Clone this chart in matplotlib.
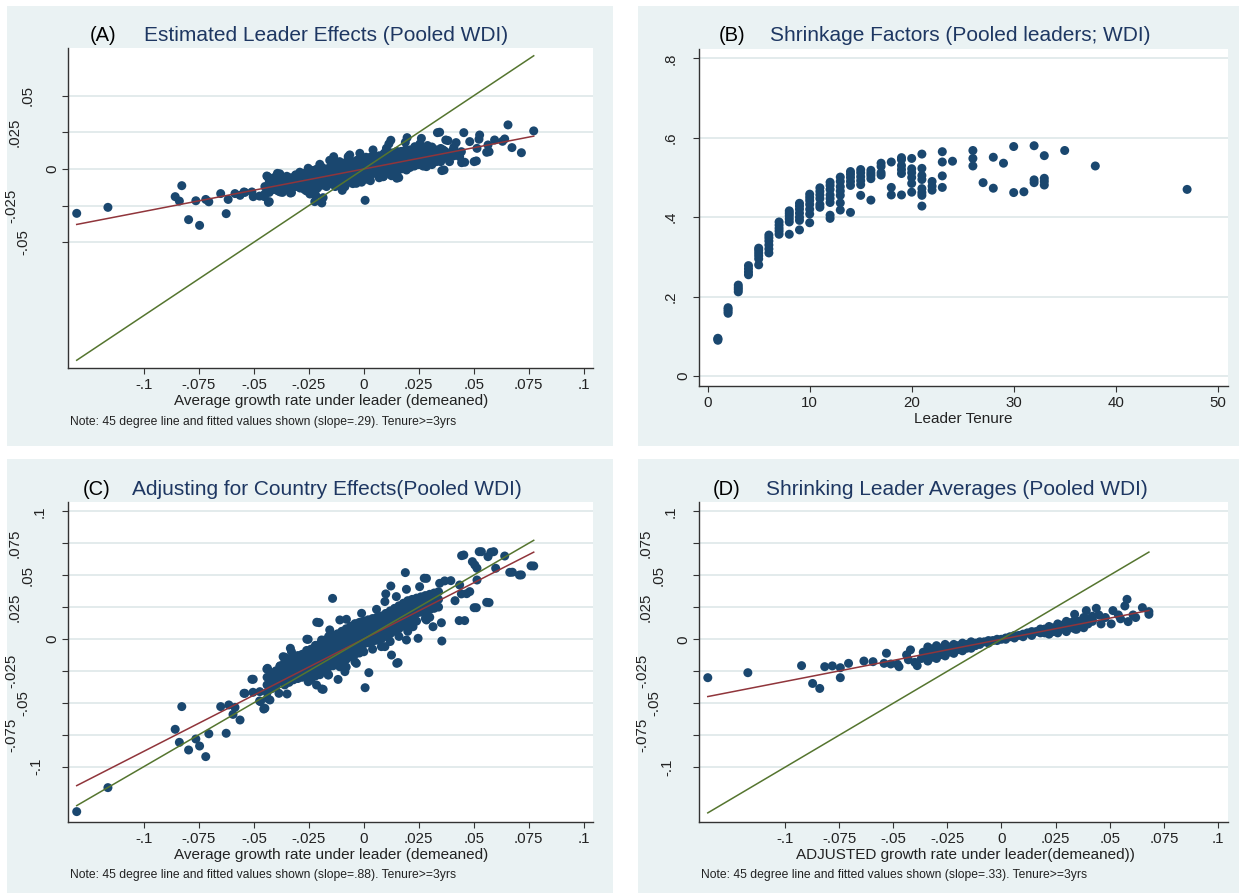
import matplotlib
matplotlib.use("Agg")
import matplotlib.pyplot as plt
import numpy as np
from matplotlib import transforms
from matplotlib.patches import Rectangle

# ---------------- data ----------------
# Panel A: average growth under leader (x) vs estimated leader effect (y)
a_points = [
    (-0.1306, -0.0303), (-0.1164, -0.0262), (-0.0858, -0.0189), (-0.0828, -0.0114), (-0.0839, -0.0219),
    (-0.0797, -0.0346), (-0.0764, -0.0217), (-0.0747, -0.0385), (-0.0719, -0.0208), (-0.0705, -0.0224),
    (-0.0651, -0.0168), (-0.0626, -0.0305), (-0.0617, -0.0208), (-0.0586, -0.0168), (-0.0563, -0.0180),
    (-0.0545, -0.0157), (-0.0541, -0.0160), (-0.0509, -0.0157), (-0.0503, -0.0189), (-0.0474, -0.0185),
    (-0.0452, -0.0189), (-0.0434, -0.0228), (-0.0430, -0.0223), (-0.0441, -0.0048), (-0.0438, -0.0052),
    (-0.0420, -0.0089), (-0.0393, -0.0030), (-0.0380, -0.0157), (-0.0334, -0.0164), (-0.0329, -0.0162),
    (-0.0259, -0.0035), (-0.0253, 0.0005), (-0.0245, -0.0171), (-0.0238, -0.0132), (-0.0223, -0.0223),
    (-0.0219, -0.0178), (-0.0214, -0.0001), (-0.0200, 0.0032), (-0.0191, -0.0232), (-0.0185, -0.0196),
    (-0.0142, 0.0048), (-0.0137, 0.0084), (-0.0098, -0.0146), (-0.0086, -0.0121), (-0.0080, 0.0044),
    (-0.0071, 0.0084), (0.0006, -0.0214), (0.0094, 0.0109), (0.0103, 0.0141), (0.0114, 0.0171),
    (0.0123, 0.0196), (0.0126, -0.0046), (0.0150, -0.0063), (0.0159, -0.0059), (0.0189, 0.0182),
    (0.0197, 0.0214), (0.0232, 0.0152), (0.0255, 0.0171), (0.0262, 0.0209), (0.0300, 0.0141),
    (0.0315, 0.0073), (0.0335, 0.0248), (0.0345, 0.0251), (0.0355, -0.0011), (0.0361, 0.0130),
    (0.0365, -0.0007), (0.0373, 0.0198), (0.0383, 0.0194), (0.0400, 0.0100), (0.0410, 0.0150),
    (0.0390, 0.0050), (0.0420, 0.0180), (0.0436, 0.0084), (0.0444, 0.0118), (0.0445, 0.0043),
    (0.0455, 0.0248), (0.0459, 0.0046), (0.0482, 0.0187), (0.0502, 0.0050), (0.0512, 0.0055),
    (0.0515, 0.0141), (0.0524, 0.0203), (0.0527, 0.0232), (0.0559, 0.0114), (0.0565, 0.0164),
    (0.0570, 0.0118), (0.0595, 0.0198), (0.0631, 0.0189), (0.0641, 0.0205), (0.0656, 0.0301),
    (0.0674, 0.0146), (0.0717, 0.0111), (0.0773, 0.0260),
    (-0.0064, 0.0096), (-0.0018, 0.0107), (0.0042, 0.0130), (-0.0155, 0.0059), (-0.0291, -0.0022),
    (-0.0382, -0.0033), (0.0224, 0.0096), (0.0330, 0.0118), (0.0406, 0.0130), (0.0285, 0.0016),
    (0.0194, -0.0007), (0.0088, -0.0053), (-0.0034, -0.0098), (-0.0125, -0.0109), (-0.0261, -0.0150),
]
a_core = [
    (-0.045, -0.012), (-0.045, -0.017),
    (-0.041, -0.006), (-0.041, -0.010), (-0.041, -0.014),
    (-0.037, -0.008), (-0.037, -0.012), (-0.037, -0.016),
    (-0.033, -0.006), (-0.033, -0.010), (-0.033, -0.014),
    (-0.029, -0.005), (-0.029, -0.009), (-0.029, -0.013),
    (-0.025, -0.003), (-0.025, -0.007), (-0.025, -0.011), (-0.025, -0.015),
    (-0.021, -0.002), (-0.021, -0.006), (-0.021, -0.010), (-0.021, -0.013),
    (-0.017, 0.000), (-0.017, -0.004), (-0.017, -0.008), (-0.017, -0.012),
    (-0.013, 0.003), (-0.013, -0.001), (-0.013, -0.005), (-0.013, -0.009), (-0.013, -0.012),
    (-0.009, 0.004), (-0.009, 0.000), (-0.009, -0.004), (-0.009, -0.008), (-0.009, -0.011),
    (-0.005, 0.005), (-0.005, 0.001), (-0.005, -0.003), (-0.005, -0.007), (-0.005, -0.010),
    (-0.001, 0.007), (-0.001, 0.003), (-0.001, -0.001), (-0.001, -0.005), (-0.001, -0.009),
    (0.003, 0.008), (0.003, 0.004), (0.003, 0.000), (0.003, -0.004), (0.003, -0.008),
    (0.007, 0.009), (0.007, 0.005), (0.007, 0.001), (0.007, -0.003), (0.007, -0.006),
    (0.011, 0.010), (0.011, 0.006), (0.011, 0.002), (0.011, -0.002),
    (0.015, 0.012), (0.015, 0.008), (0.015, 0.004), (0.015, 0.000), (0.015, -0.004),
    (0.019, 0.013), (0.019, 0.009), (0.019, 0.005), (0.019, 0.001),
    (0.023, 0.014), (0.023, 0.010), (0.023, 0.006), (0.023, 0.002),
    (0.027, 0.014), (0.027, 0.010), (0.027, 0.006), (0.027, 0.002),
    (0.031, 0.015), (0.031, 0.011), (0.031, 0.007), (0.031, 0.003),
    (0.035, 0.014), (0.035, 0.009), (0.035, 0.005),
    (-0.043, -0.008), (-0.043, -0.012), (-0.043, -0.016),
    (-0.039, -0.007), (-0.039, -0.011), (-0.039, -0.015),
    (-0.035, -0.005), (-0.035, -0.009), (-0.035, -0.013),
    (-0.031, -0.004), (-0.031, -0.008), (-0.031, -0.012),
    (-0.027, -0.003), (-0.027, -0.007), (-0.027, -0.011), (-0.027, -0.014),
    (-0.023, -0.001), (-0.023, -0.005), (-0.023, -0.009), (-0.023, -0.013),
    (-0.019, 0.001), (-0.019, -0.003), (-0.019, -0.007), (-0.019, -0.011),
    (-0.015, 0.002), (-0.015, -0.002), (-0.015, -0.006), (-0.015, -0.010),
    (-0.011, 0.005), (-0.011, 0.001), (-0.011, -0.003), (-0.011, -0.007), (-0.011, -0.010),
    (-0.007, 0.006), (-0.007, 0.002), (-0.007, -0.002), (-0.007, -0.006), (-0.007, -0.009),
    (-0.003, 0.006), (-0.003, 0.002), (-0.003, -0.002), (-0.003, -0.006),
    (0.001, 0.008), (0.001, 0.004), (0.001, 0.000), (0.001, -0.004), (0.001, -0.007),
    (0.005, 0.009), (0.005, 0.005), (0.005, 0.001), (0.005, -0.003),
    (0.009, 0.010), (0.009, 0.006), (0.009, 0.002), (0.009, -0.002), (0.009, -0.005),
    (0.013, 0.011), (0.013, 0.007), (0.013, 0.003), (0.013, -0.001),
    (0.017, 0.012), (0.017, 0.008), (0.017, 0.004), (0.017, 0.000),
    (0.021, 0.013), (0.021, 0.009), (0.021, 0.005), (0.021, 0.001),
    (0.025, 0.015), (0.025, 0.011), (0.025, 0.007), (0.025, 0.003),
    (0.029, 0.016), (0.029, 0.012), (0.029, 0.008), (0.029, 0.004),
    (0.033, 0.013), (0.033, 0.009), (0.033, 0.005),
    (0.037, 0.012), (0.037, 0.008),
    (0.041, 0.013), (0.041, 0.009),
]
a_slope, a_intercept = 0.29, 0.0

# Panel B: leader tenure vs shrinkage factor
b_tenure = ([1] * 3 + [2] * 4 + [3] * 4 + [4] * 4 + [5] * 6 + [6] * 6 + [7] * 5 + [8] * 6 + [9] * 7
            + [10] * 7 + [11] * 6 + [12] * 8 + [13] * 7 + [14] * 6 + [15] * 6 + [16] * 5 + [17] * 4
            + [18] * 3 + [19] * 6 + [20] * 6 + [21] * 8 + [22] * 3 + [23] * 4 + [24] + [26] * 3 + [27]
            + [28] * 2 + [29] + [30] * 2 + [31] + [32] * 3 + [33] * 4 + [35] + [38] + [47])
b_factor = [
    .090, .093, .095,
    .158, .163, .168, .172,
    .212, .218, .223, .229,
    .255, .262, .270, .278,
    .280, .295, .303, .310, .317, .322,
    .310, .320, .330, .340, .348, .355,
    .357, .365, .372, .380, .388,
    .357, .388, .396, .404, .410, .416,
    .368, .392, .400, .410, .420, .428, .435,
    .386, .408, .420, .432, .442, .450, .458,
    .425, .432, .447, .456, .465, .474,
    .397, .405, .437, .447, .456, .470, .480, .488,
    .418, .436, .455, .466, .477, .490, .501,
    .412, .480, .490, .500, .508, .515,
    .455, .482, .492, .502, .512, .520,
    .443, .497, .505, .511, .518,
    .506, .512, .528, .536,
    .456, .475, .539,
    .456, .510, .520, .530, .545, .550,
    .463, .485, .500, .512, .522, .548,
    .428, .455, .462, .472, .495, .505, .523, .559,
    .468, .478, .490,
    .475, .504, .539, .565,
    .541,
    .529, .548, .568,
    .487,
    .473, .551,
    .536,
    .462, .578,
    .464,
    .487, .494, .580,
    .481, .490, .498, .555,
    .568,
    .529,
    .470,
]

# Panel C: average growth under leader vs leader effect adjusted for country effects
c_points = [
    (-0.1306, -0.1353), (-0.1164, -0.1165), (-0.0858, -0.0708), (-0.0828, -0.0530), (-0.0839, -0.0810),
    (-0.0797, -0.0870), (-0.0764, -0.0784), (-0.0747, -0.0839), (-0.0719, -0.0922), (-0.0705, -0.0743),
    (-0.0651, -0.0530), (-0.0626, -0.0739), (-0.0614, -0.0517), (-0.0586, -0.0536), (-0.0595, -0.0591),
    (-0.0563, -0.0635), (-0.0545, -0.0426), (-0.0541, -0.0426), (-0.0509, -0.0316), (-0.0503, -0.0316),
    (-0.0504, -0.0418), (-0.0474, -0.0486), (-0.0470, -0.0491), (-0.0455, -0.0549), (-0.0450, -0.0543),
    (-0.0438, -0.0465), (-0.0427, -0.0478), (-0.0441, -0.0236), (-0.0438, -0.0230), (-0.0420, -0.0282),
    (-0.0386, -0.0426), (-0.0349, -0.0431), (-0.0359, -0.0143), (-0.0334, -0.0073), (-0.0329, -0.0100),
    (-0.0253, -0.0003), (-0.0259, -0.0002), (-0.0250, -0.0300), (-0.0253, -0.0335), (-0.0215, -0.0361),
    (-0.0214, 0.0131), (-0.0203, 0.0128), (-0.0191, -0.0392), (-0.0185, -0.0395), (-0.0142, 0.0318),
    (-0.0117, -0.0317), (-0.0086, -0.0256), (0.0006, -0.0382), (0.0023, -0.0264), (0.0100, 0.0353),
    (0.0123, 0.0415), (0.0126, -0.0126), (0.0150, -0.0191), (0.0156, -0.0185), (0.0189, 0.0520),
    (0.0194, 0.0389), (0.0247, 0.0005), (0.0275, 0.0476), (0.0285, 0.0475), (0.0315, 0.0096),
    (0.0345, 0.0436), (0.0353, 0.0127), (0.0355, -0.0016), (0.0368, 0.0455), (0.0396, 0.0457),
    (0.0415, 0.0300), (0.0468, 0.0355), (0.0434, 0.0144), (0.0436, 0.0423), (0.0444, 0.0353),
    (0.0445, 0.0653), (0.0455, 0.0658), (0.0459, 0.0144), (0.0482, 0.0371), (0.0494, 0.0606),
    (0.0502, 0.0245), (0.0505, 0.0580), (0.0512, 0.0245), (0.0515, 0.0554), (0.0515, 0.0462),
    (0.0525, 0.0684), (0.0535, 0.0684), (0.0559, 0.0287), (0.0565, 0.0645), (0.0570, 0.0285),
    (0.0578, 0.0679), (0.0591, 0.0684), (0.0600, 0.0554), (0.0641, 0.0650), (0.0664, 0.0522),
    (0.0676, 0.0523), (0.0708, 0.0501), (0.0717, 0.0502), (0.0761, 0.0573), (0.0773, 0.0572),
    (-0.0367, -0.0139), (-0.0412, -0.0268), (-0.0382, -0.0215), (-0.0473, -0.0413), (-0.0352, -0.0320),
    (-0.0284, -0.0295), (-0.0246, -0.0139), (-0.0192, -0.0008), (-0.0155, 0.0071), (-0.0109, 0.0149),
    (-0.0079, 0.0154), (-0.0010, 0.0201), (0.0058, 0.0232), (0.0096, 0.0293), (0.0148, 0.0332),
    (0.0254, 0.0410), (0.0307, 0.0345), (0.0096, -0.0060), (0.0194, -0.0008), (0.0224, 0.0096),
    (0.0285, 0.0149), (-0.0034, -0.0191), (-0.0109, -0.0218), (-0.0162, -0.0283),
]
c_core = [
    (-0.044, -0.030), (-0.044, -0.036), (-0.044, -0.042),
    (-0.040, -0.025), (-0.040, -0.031), (-0.040, -0.037),
    (-0.036, -0.018), (-0.036, -0.024), (-0.036, -0.030), (-0.036, -0.036),
    (-0.032, -0.014), (-0.032, -0.020), (-0.032, -0.026), (-0.032, -0.032),
    (-0.028, -0.012), (-0.028, -0.018), (-0.028, -0.024), (-0.028, -0.030),
    (-0.024, -0.008), (-0.024, -0.014), (-0.024, -0.020), (-0.024, -0.026), (-0.024, -0.032),
    (-0.020, -0.004), (-0.020, -0.010), (-0.020, -0.016), (-0.020, -0.022), (-0.020, -0.028),
    (-0.016, 0.002), (-0.016, -0.004), (-0.016, -0.010), (-0.016, -0.016), (-0.016, -0.022), (-0.016, -0.028),
    (-0.012, 0.004), (-0.012, -0.002), (-0.012, -0.008), (-0.012, -0.014), (-0.012, -0.020),
    (-0.008, 0.008), (-0.008, 0.002), (-0.008, -0.004), (-0.008, -0.010), (-0.008, -0.016), (-0.008, -0.022),
    (-0.004, 0.012), (-0.004, 0.006), (-0.004, 0.000), (-0.004, -0.006), (-0.004, -0.012), (-0.004, -0.018),
    (0.000, 0.014), (0.000, 0.008), (0.000, 0.002), (0.000, -0.004), (0.000, -0.010),
    (0.004, 0.016), (0.004, 0.010), (0.004, 0.004), (0.004, -0.002), (0.004, -0.008),
    (0.008, 0.018), (0.008, 0.012), (0.008, 0.006), (0.008, 0.000), (0.008, -0.006),
    (0.012, 0.022), (0.012, 0.016), (0.012, 0.010), (0.012, 0.004), (0.012, -0.002),
    (0.016, 0.026), (0.016, 0.020), (0.016, 0.014), (0.016, 0.008), (0.016, 0.002),
    (0.020, 0.030), (0.020, 0.024), (0.020, 0.018), (0.020, 0.012), (0.020, 0.006),
    (0.024, 0.032), (0.024, 0.026), (0.024, 0.020), (0.024, 0.014),
    (0.028, 0.034), (0.028, 0.028), (0.028, 0.022), (0.028, 0.016),
    (0.032, 0.036), (0.032, 0.030), (0.032, 0.024),
    (-0.042, -0.027), (-0.042, -0.033), (-0.042, -0.039),
    (-0.038, -0.021), (-0.038, -0.027), (-0.038, -0.033),
    (-0.034, -0.016), (-0.034, -0.022), (-0.034, -0.028), (-0.034, -0.034),
    (-0.030, -0.013), (-0.030, -0.019), (-0.030, -0.025), (-0.030, -0.031),
    (-0.026, -0.009), (-0.026, -0.015), (-0.026, -0.021), (-0.026, -0.027),
    (-0.022, -0.005), (-0.022, -0.011), (-0.022, -0.017), (-0.022, -0.023), (-0.022, -0.029),
    (-0.018, -0.001), (-0.018, -0.007), (-0.018, -0.013), (-0.018, -0.019), (-0.018, -0.025),
    (-0.014, 0.003), (-0.014, -0.003), (-0.014, -0.009), (-0.014, -0.015), (-0.014, -0.021),
    (-0.010, 0.006), (-0.010, 0.000), (-0.010, -0.006), (-0.010, -0.012), (-0.010, -0.018),
    (-0.006, 0.010), (-0.006, 0.004), (-0.006, -0.002), (-0.006, -0.008), (-0.006, -0.014),
    (-0.002, 0.013), (-0.002, 0.007), (-0.002, 0.001), (-0.002, -0.005), (-0.002, -0.011),
    (0.002, 0.015), (0.002, 0.009), (0.002, 0.003), (0.002, -0.003),
    (0.006, 0.017), (0.006, 0.011), (0.006, 0.005), (0.006, -0.001),
    (0.010, 0.020), (0.010, 0.014), (0.010, 0.008), (0.010, 0.002),
    (0.014, 0.024), (0.014, 0.018), (0.014, 0.012), (0.014, 0.006),
    (0.018, 0.028), (0.018, 0.022), (0.018, 0.016), (0.018, 0.010),
    (0.022, 0.031), (0.022, 0.025), (0.022, 0.019), (0.022, 0.013),
    (0.026, 0.033), (0.026, 0.027), (0.026, 0.021),
    (0.030, 0.035), (0.030, 0.029), (0.030, 0.023), (0.030, 0.017),
    (0.034, 0.037), (0.034, 0.031), (0.034, 0.025),
]
c_slope, c_intercept = 0.88, 0.0

# Panel D: adjusted growth under leader vs shrunk leader average
d_points = [
    (-0.1356, -0.0300), (-0.1171, -0.0261), (-0.0923, -0.0206), (-0.0872, -0.0345), (-0.0839, -0.0384),
    (-0.0816, -0.0214), (-0.0781, -0.0208), (-0.0744, -0.0222), (-0.0744, -0.0300), (-0.0706, -0.0188),
    (-0.0635, -0.0170), (-0.0593, -0.0175), (-0.0531, -0.0109), (-0.0542, -0.0188), (-0.0511, -0.0193),
    (-0.0473, -0.0214), (-0.0480, -0.0195), (-0.0438, -0.0122), (-0.0420, -0.0083), (-0.0430, -0.0160),
    (-0.0389, -0.0206), (-0.0400, -0.0180), (-0.0361, -0.0101), (-0.0370, -0.0150), (-0.0323, -0.0075),
    (0.0338, 0.0195), (0.0347, 0.0078), (0.0392, 0.0224), (0.0438, 0.0242), (0.0460, 0.0120),
    (0.0507, 0.0120), (0.0515, 0.0224), (0.0570, 0.0260), (0.0580, 0.0312), (0.0585, 0.0138),
    (0.0608, 0.0190), (0.0651, 0.0247), (0.0681, 0.0216), (0.0681, 0.0195), (0.0540, 0.0190),
    (0.0480, 0.0170), (0.0420, 0.0150), (0.0450, 0.0190), (0.0380, 0.0120), (0.0550, 0.0160),
    (0.0620, 0.0170),
]
d_core = [
    (-0.034, -0.006), (-0.034, -0.012), (-0.034, -0.017),
    (-0.030, -0.005), (-0.030, -0.010), (-0.030, -0.015),
    (-0.026, -0.004), (-0.026, -0.009), (-0.026, -0.013),
    (-0.022, -0.004), (-0.022, -0.008), (-0.022, -0.011),
    (-0.018, -0.003), (-0.018, -0.006), (-0.018, -0.009),
    (-0.014, -0.002), (-0.014, -0.005), (-0.014, -0.007),
    (-0.010, -0.002), (-0.010, -0.004),
    (-0.006, -0.001), (-0.006, -0.003),
    (-0.002, 0.000), (-0.002, -0.001),
    (0.002, 0.001), (0.002, 0.000),
    (0.006, 0.003), (0.006, 0.001),
    (0.010, 0.004), (0.010, 0.002),
    (0.014, 0.006), (0.014, 0.003),
    (0.018, 0.008), (0.018, 0.005),
    (0.022, 0.010), (0.022, 0.006), (0.022, 0.004),
    (0.026, 0.012), (0.026, 0.008), (0.026, 0.005),
    (0.030, 0.014), (0.030, 0.010), (0.030, 0.006),
    (0.034, 0.015), (0.034, 0.011), (0.034, 0.008),
    (0.038, 0.017), (0.038, 0.013), (0.038, 0.009),
    (0.042, 0.018), (0.042, 0.014),
    (-0.032, -0.008), (-0.032, -0.014),
    (-0.028, -0.007), (-0.028, -0.012),
    (-0.024, -0.006), (-0.024, -0.010),
    (-0.020, -0.005), (-0.020, -0.008),
    (-0.016, -0.004), (-0.016, -0.007),
    (-0.012, -0.003), (-0.012, -0.005),
    (-0.008, -0.002), (-0.004, -0.001), (0.000, 0.000), (0.004, 0.002),
    (0.008, 0.003), (0.012, 0.005), (0.016, 0.006),
    (0.020, 0.008), (0.020, 0.005),
    (0.024, 0.009), (0.024, 0.006),
    (0.028, 0.011), (0.028, 0.008),
    (0.032, 0.013), (0.032, 0.009),
    (0.036, 0.014), (0.036, 0.010),
    (0.040, 0.016), (0.040, 0.012),
]
d_slope, d_intercept = 0.33, 0.0

growth_ticks = [-0.1, -0.075, -0.05, -0.025, 0, 0.025, 0.05, 0.075, 0.1]
growth_ticklabels = ["-.1", "-.075", "-.05", "-.025", "0", ".025", ".05", ".075", ".1"]
a_yticks = [-0.05, -0.025, 0, 0.025, 0.05]
a_yticklabels = ["-.05", "-.025", "0", ".025", ".05"]
b_xticks = [0, 10, 20, 30, 40, 50]
b_xticklabels = ["0", "10", "20", "30", "40", "50"]
b_yticks = [0, 0.2, 0.4, 0.6, 0.8]
b_yticklabels = ["0", ".2", ".4", ".6", ".8"]

# ---------------- style ----------------
W, H = 1239, 893
NAVY = "#1a476f"
RED = "#90353b"
GREEN = "#55752f"
BG = "#eaf2f3"
GRID = "#e1e9eb"
TITLE = "#1e3762"
AXC = "#333333"
MS = 42
plt.rcParams["font.family"] = ["Liberation Sans", "DejaVu Sans"]

fig = plt.figure(figsize=(W / 100, H / 100), dpi=100)
fig.patch.set_facecolor("white")


def fx(px):
    return px / W


def fy(py):
    return 1 - py / H


for (x0, y0, x1, y1) in [(7, 6, 613, 446), (638, 6, 1239, 446), (7, 459, 613, 893), (638, 459, 1239, 893)]:
    fig.patches.append(Rectangle((fx(x0), fy(y1)), (x1 - x0) / W, (y1 - y0) / H,
                                 transform=fig.transFigure, facecolor=BG, edgecolor="none", zorder=-10))


def make_ax(l, t, r, b, xlim, ylim, xticks, xlabels, yticks, ylabels):
    ax = fig.add_axes([fx(l), fy(b), (r - l) / W, (b - t) / H])
    ax.set_zorder(2)
    ax.set_facecolor("white")
    ax.set_xlim(*xlim)
    ax.set_ylim(*ylim)
    for s in ["top", "right"]:
        ax.spines[s].set_visible(False)
    for s in ["left", "bottom"]:
        ax.spines[s].set_color(AXC)
        ax.spines[s].set_linewidth(1.0)
    ax.set_xticks(xticks, xlabels)
    ax.set_yticks(yticks)
    ax.tick_params(axis="x", direction="out", length=4.6, width=0.8, color=AXC,
                   labelsize=10.8, pad=2.5, labelcolor="#222222")
    ax.tick_params(axis="y", direction="out", length=4.4, width=0.8, color=AXC, labelleft=False)
    ax.yaxis.grid(True, color=GRID, linewidth=1.3)
    ax.set_axisbelow(True)
    base = transforms.blended_transform_factory(ax.transAxes, ax.transData)
    for v, s in zip(yticks, ylabels):
        n_minus = s.count("-")
        n_other = len(s) - n_minus
        off = 12.4 * n_other + 4 * n_minus - 4
        tr = base + transforms.ScaledTranslation(-off / 100, 0, fig.dpi_scale_trans)
        ax.text(0, v, s, transform=tr, rotation=90, ha="right", va="center",
                fontsize=10.8, color="#222222", clip_on=False)
    return ax


def draw_growth(ax, pts, core, slope, intercept):
    arr = np.array(pts + core)
    ax.scatter(arr[:, 0], arr[:, 1], s=MS, c=NAVY, edgecolors="none", zorder=3)
    xs = np.array([arr[:, 0].min(), arr[:, 0].max()])
    ax.plot(xs, slope * xs + intercept, color=RED, lw=1.1, zorder=4)
    ax.plot(xs, xs, color=GREEN, lw=1.1, zorder=5)


# Panel A
axA = make_ax(67.7, 48.3, 593.5, 368.3, (-0.1347, 0.1045), (-0.1361, 0.0824),
              growth_ticks, growth_ticklabels, a_yticks, a_yticklabels)
draw_growth(axA, a_points, a_core, a_slope, a_intercept)

# Panel B
axB = make_ax(698.7, 48.7, 1227.5, 386, (-0.88, 50.96), (-0.0252, 0.8244),
              b_xticks, b_xticklabels, b_yticks, b_yticklabels)
axB.scatter(b_tenure, b_factor, s=MS, c=NAVY, edgecolors="none", zorder=3)

# Panel C
axC = make_ax(67.7, 502.3, 593.5, 821.7, (-0.1347, 0.1045), (-0.1432, 0.1071),
              growth_ticks, growth_ticklabels, growth_ticks, growth_ticklabels)
draw_growth(axC, c_points, c_core, c_slope, c_intercept)

# Panel D
axD = make_ax(698.7, 502.3, 1227.5, 821.7, (-0.1398, 0.1044), (-0.1425, 0.1070),
              growth_ticks, growth_ticklabels, growth_ticks, growth_ticklabels)
draw_growth(axD, d_points, d_core, d_slope, d_intercept)

# Titles
titles = [
    (90, 143.7, 41, "(A)", "Estimated Leader Effects (Pooled WDI)"),
    (719, 770, 40.7, "(B)", "Shrinkage Factors (Pooled leaders; WDI)"),
    (82.7, 132, 495, "(C)", "Adjusting for Country Effects(Pooled WDI)"),
    (713, 766, 495, "(D)", "Shrinking Leader Averages (Pooled WDI)"),
]
for xl, xt, yb, lab, t in titles:
    fig.text(fx(xl), fy(yb), lab, ha="left", va="baseline", fontsize=14.5, color="black")
    fig.text(fx(xt), fy(yb), t, ha="left", va="baseline", fontsize=15, color=TITLE)

# Axis titles
fig.text(fx(331), fy(401), "Average growth rate under leader (demeaned)", ha="center", va="center",
         fontsize=11, color="#222222")
fig.text(fx(963), fy(419), "Leader Tenure", ha="center", va="center", fontsize=11, color="#222222")
fig.text(fx(331), fy(855), "Average growth rate under leader (demeaned)", ha="center", va="center",
         fontsize=11, color="#222222")
fig.text(fx(965), fy(855), "ADJUSTED growth rate under leader(demeaned))", ha="center", va="center",
         fontsize=11, color="#222222")

# Notes
fig.text(fx(70), fy(421.7), "Note: 45 degree line and fitted values shown (slope=.29). Tenure>=3yrs",
         ha="left", va="center", fontsize=8.7, color="#222222")
fig.text(fx(70), fy(875), "Note: 45 degree line and fitted values shown (slope=.88). Tenure>=3yrs",
         ha="left", va="center", fontsize=8.7, color="#222222")
fig.text(fx(701), fy(875), "Note: 45 degree line and fitted values shown (slope=.33). Tenure>=3yrs",
         ha="left", va="center", fontsize=8.7, color="#222222")

fig.savefig("out.png", dpi=100, facecolor="white")
